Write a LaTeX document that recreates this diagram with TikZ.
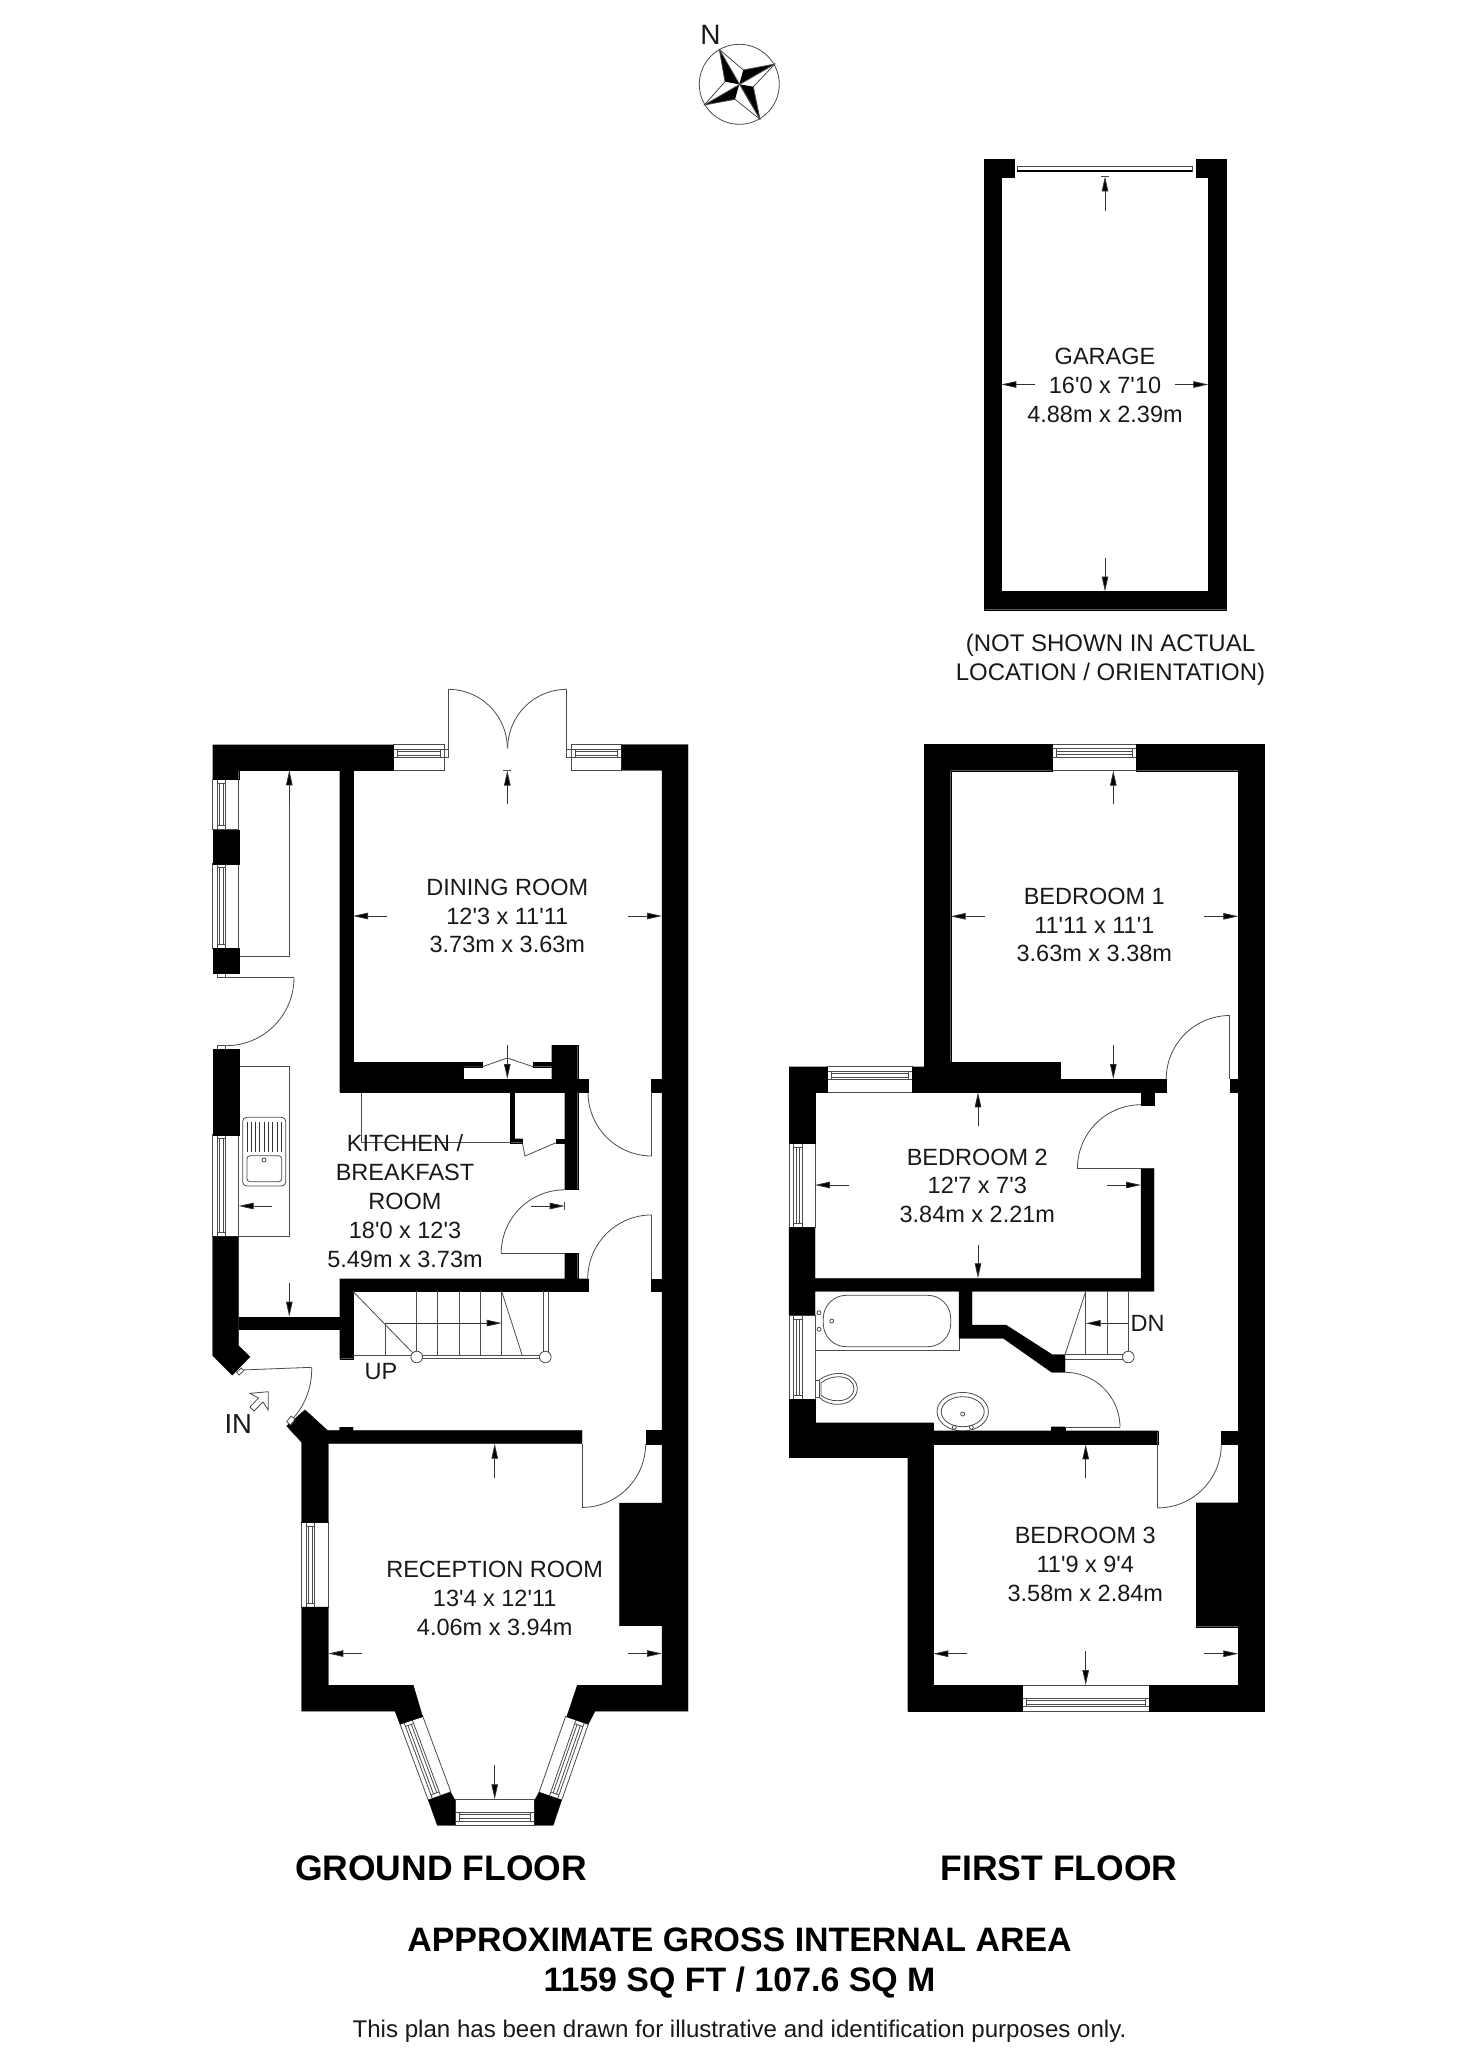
\documentclass[tikz,border=0pt]{standalone}
\usepackage{fontspec}
\newfontfamily\lib{Liberation Sans}
\setmainfont{Liberation Sans}
\usetikzlibrary{arrows.meta}
\tikzset{
  wall/.style={fill=black,draw=black,line width=0.3pt},
  fine/.style={draw=black!70,line width=0.8pt},
  dimline/.style={draw=black!80,line width=0.8pt,-{Triangle[length=15pt,width=6.5pt,fill=black]}},
  lbl/.style={inner sep=0pt,align=center,font=\lib\fontsize{23.5}{28.8}\selectfont,text=black!90},
  title/.style={inner sep=0pt,align=center,font=\lib\fontsize{35.5}{42}\selectfont\bfseries,text=black},
}
\newcommand{\winrect}[5]{%
  \begin{scope}[shift={(#1,#2)},rotate=#3]
    \filldraw[fine,fill=white] (0,0) rectangle (#4,#5);
    \draw[fine] (0,4.3) -- (#4,4.3) (0,13) -- (#4,13);
    \draw[fine] (4,4.3) -- (4,13) ({#4-4},4.3) -- ({#4-4},13);
    \draw[fine] (4,7) -- ({#4-4},7) (4,10.5) -- ({#4-4},10.5);
  \end{scope}}
\newcommand{\dooroval}[5]{%
  \draw[fine] plot[smooth,samples=24,domain=#4:#5] ({#1+#3*cos(\x)},{#2+#3*sin(\x)});}
\begin{document}
\begin{tikzpicture}[x=1pt,y=-1pt]
\useasboundingbox (0,0) rectangle (1479,2048);
\fill[white] (0,0) rectangle (1479,2048);

% ---------- compass
\draw[fine] (739.3,84.3) circle[radius=40];
\fill[black] (719.3,49.3) -- (739.3,84.3) -- (725,81.7) -- cycle;
\fill[black] (775,64) -- (739.3,84.3) -- (743.3,70) -- cycle;
\fill[black] (760,119.3) -- (739.3,84.3) -- (753.3,86.7) -- cycle;
\fill[black] (704.3,105) -- (739.3,84.3) -- (735,99.3) -- cycle;
\draw[fine] (719.3,49.3) -- (743.3,70) -- (775,64) -- (753.3,86.7) -- (760,119.3) -- (735,99.3) -- (704.3,105) -- (725,81.7) -- cycle;
\draw[fine] (719.3,49.3) -- (760,119.3) (775,64) -- (704.3,105);
\node[lbl,font=\lib\fontsize{28}{30}\selectfont] (north) at (710.5,35) {N};

% ---------- garage
\filldraw[fine,fill=white] (1017.3,166.2) rectangle (1192,171.4);
\draw[black,line width=1.5pt] (1017.3,171) -- (1192,171);
\fill[wall] (984,159.6) -- (1014.3,159.6) -- (1014.3,176.9) -- (1001.3,176.9) -- (1001.3,591.5) -- (1208.3,591.5) -- (1208.3,176.9) -- (1196,176.9) -- (1196,159.6) -- (1226.3,159.6) -- (1226.3,609.7) -- (984,609.7) -- cycle;
\draw[dimline] (1105,211.3) -- (1105,176.4);
\draw[fine] (1101,176.2) -- (1109,176.2);
\draw[dimline] (1105,558) -- (1105,591.5);
\draw[dimline] (1035.3,384.5) -- (1001.3,384.5);
\draw[dimline] (1174.7,384.5) -- (1208.3,384.5);
\node[lbl] (garage) at (1105,385.2) {GARAGE\\16'0 x 7'10\\4.88m x 2.39m};
\node[lbl,font=\lib\fontsize{24}{28.7}\selectfont] (notshown) at (1110.5,660) {(NOT SHOWN IN ACTUAL\\LOCATION / ORIENTATION)};

% ---------- ground floor fixtures
\draw[fine] (289.3,770.3) -- (289.3,956.7) -- (238.7,956.7);
\draw[fine] (238.7,1066.7) -- (289.3,1066.7) -- (289.3,1236.7) -- (238.7,1236.7);
\draw[fine,rounded corners=4pt] (242.7,1117.3) rectangle (285.7,1186);
\draw[fine,rounded corners=3pt] (247,1155.7) rectangle (281.7,1181.7);
\draw[fine] (264,1160) circle[radius=2];
\foreach \gx in {247,251.3,255.6,259.9,264.2,268.5,272.8,277.1,281.4}
  \draw[draw=black!80,line width=0.9pt] (\gx,1121.7) -- (\gx,1151.7);
\draw[fine] (361.3,1092.3) -- (361.3,1142.7) -- (510,1142.7);
\draw[fine] (522.3,1142.7) -- (525,1156) -- (556,1142.7);
\draw[fine] (463.3,1066.7) -- (482.3,1066.7) -- (507.3,1058) -- (533.3,1066.7);

% windows ground floor
\winrect{393.3}{744.7}{0}{50.7}{25.6}
\winrect{571.3}{744.7}{0}{50.4}{25.6}
\draw[fine] (393.3,749) rectangle (448.3,757.3);
\draw[fine] (566.7,749) rectangle (621.7,757.3);
\winrect{212.7}{829.7}{90}{50.4}{26}
\winrect{212.7}{948}{90}{84.3}{26}
\winrect{212.7}{1236.7}{90}{102}{26}
\winrect{301.7}{1607.1}{90}{84.5}{26.6}
\winrect{534.7}{1825.3}{180}{79.7}{26}
\winrect{428.3}{1800.1}{110.4}{81}{24}
\winrect{588.3}{1724.2}{250.7}{80.5}{24}
\draw[fine] (217.3,973.3) rectangle (225.7,977.7);
\draw[fine] (217.3,1045.7) rectangle (225.7,1049.3);

% ---------- ground floor walls
\fill[wall] (212.7,744.7) -- (393.3,744.7) -- (393.3,770.3) -- (238.7,770.3) -- (238.7,779.3) -- (212.7,779.3) -- cycle;
\fill[wall] (339.7,770.3) -- (353,770.3) -- (353,1062.3) -- (482.3,1062.3) -- (482.3,1066.7) -- (463.3,1066.7) -- (463.3,1079) -- (551.7,1079) -- (551.7,1066.7) -- (533.3,1066.7) -- (533.3,1062.3) -- (551.7,1062.3) -- (551.7,1045) -- (577.7,1045) -- (577.7,1079) -- (588,1079) -- (588,1092.3) -- (577.7,1092.3) -- (577.7,1189.6) -- (564.7,1189.6) -- (564.7,1092.3) -- (339.7,1092.3) -- cycle;
\fill[wall] (510,1092.3) -- (514.3,1092.3) -- (514.3,1138.7) -- (522.3,1138.7) -- (522.3,1142.7) -- (510,1142.7) -- cycle;
\fill[wall] (556,1138.7) rectangle (564.7,1142.7);
\fill[wall] (339.7,1278.7) -- (564.7,1278.7) -- (564.7,1253.3) -- (577.7,1253.3) -- (577.7,1278.7) -- (588,1278.7) -- (588,1291.4) -- (353,1291.4) -- (353,1358.7) -- (339.7,1358.7) -- (339.7,1329.6) -- (238.7,1329.6) -- (238.7,1317) -- (339.7,1317) -- cycle;
\fill[wall] (212.7,1236.7) -- (238.7,1236.7) -- (238.7,1345.7) -- (250,1356.9) -- (232.3,1375.1) -- (212.7,1355.6) -- cycle;
\fill[wall] (212.7,829.7) rectangle (238.7,863.7);
\fill[wall] (212.7,948) rectangle (238.7,973.3);
\fill[wall] (212.7,1049.3) rectangle (238.7,1134.7);
\fill[wall] (621.7,744.7) -- (688,744.7) -- (688,1711.2) -- (595,1711.2) -- (588.3,1724.2) -- (566.7,1716.8) -- (577.3,1685.2) -- (662,1685.2) -- (662,1625.8) -- (619.3,1625.8) -- (619.3,1503) -- (662,1503) -- (662,770.3) -- (621.7,770.3) -- cycle;
\fill[wall] (651,1079) rectangle (662,1092.3);
\fill[wall] (651,1278.9) rectangle (662,1291.4);
\fill[wall] (645.7,1430.6) rectangle (662,1443.7);
\fill[wall] (286.7,1426) -- (305,1409.8) -- (327.7,1430.6) -- (339.7,1430.6) -- (339.7,1427.2) -- (353,1427.2) -- (353,1430.6) -- (582,1430.6) -- (582,1443.7) -- (328.3,1443.7) -- (328.3,1522.6) -- (301.7,1522.6) -- (301.7,1442.4) -- cycle;
\fill[wall] (301.7,1607.1) -- (328.3,1607.1) -- (328.3,1685.2) -- (413.3,1685.2) -- (422.7,1716.8) -- (400,1724.2) -- (395,1711.2) -- (301.7,1711.2) -- cycle;
\fill[wall] (428.3,1800.1) -- (450.7,1792.3) -- (455,1800.1) -- (455,1825.3) -- (437.3,1825.3) -- cycle;
\fill[wall] (534.7,1800.1) -- (539,1792.3) -- (561.7,1800.1) -- (553.3,1825.3) -- (534.7,1825.3) -- cycle;

% doors ground floor
\draw[fine] (448.3,757.3) -- (448.3,689.3);
\dooroval{448.3}{748.3}{59}{-90}{0}
\draw[fine] (566.7,757.3) -- (566.7,689.3);
\dooroval{566.7}{748.3}{59}{180}{270}
\draw[fine] (217.3,977.7) -- (294,977.7);
\dooroval{226}{977.7}{68}{0}{90}
\draw[fine] (651.7,1092.3) -- (651.7,1156);
\dooroval{651.7}{1092.3}{63.7}{90}{180}
\draw[fine] (501,1253.3) -- (564.7,1253.3);
\dooroval{564.7}{1253.3}{63.5}{180}{270}
\draw[fine] (651.7,1214.7) -- (651.7,1279);
\dooroval{651.7}{1278.9}{64}{180}{270}
\draw[fine] (582,1443.7) -- (582,1507.4);
\dooroval{582}{1443.7}{63.7}{0}{90}
\draw[fine] (241,1370) -- (311.7,1367.3);
\dooroval{238.3}{1369.5}{73.4}{-1.7}{46.8}
\filldraw[fine,fill=white] (236.7,1372.3) -- (239,1375) -- (243.7,1370.7) -- (241.3,1368) -- cycle;
\filldraw[fine,fill=white] (286.7,1421.7) -- (291,1416) -- (295,1419) -- (290.7,1425) -- cycle;

% stairs ground floor
\draw[fine] (353,1291.4) -- (413.3,1353.5);
\draw[fine] (385,1323.1) -- (385,1355.6);
\foreach \sx in {416.7,437.7,459,480.3,501.7}
  \draw[fine] (\sx,1291.4) -- (\sx,1355.6);
\draw[fine] (501.7,1291.4) -- (522.3,1355.6);
\draw[fine] (353,1355.6) -- (416.7,1355.6);
\draw[fine] (416.7,1355.2) -- (545.3,1355.2) (416.7,1358.8) -- (545.3,1358.8);
\draw[fine] (543.3,1291.4) -- (543.3,1352) (548,1291.4) -- (548,1352);
\filldraw[fine,fill=white] (416.7,1357) circle[radius=5.8];
\filldraw[fine,fill=white] (545.3,1357) circle[radius=5.8];
\draw[dimline] (385,1323.1) -- (501.7,1323.1);
\node[lbl] (up) at (381,1371.7) {UP};
\node[lbl,font=\lib\fontsize{27.5}{30}\selectfont] (in) at (238.3,1423.7) {IN};
\draw[fine] (268.3,1391.7) -- (250,1393.3) -- (258.5,1398) -- (250,1407) -- (254,1411) -- (263,1402) -- (268.3,1410) -- cycle;

% dimension arrows ground floor
\draw[dimline] (507.3,804) -- (507.3,770.6);
\draw[fine] (503.3,770.3) -- (511.3,770.3);
\draw[dimline] (507.3,1045) -- (507.3,1079);
\draw[dimline] (387,916) -- (353,916);
\draw[dimline] (628.3,916) -- (662,916);
\draw[dimline] (289.3,804) -- (289.3,770.3);
\draw[dimline] (272.3,1206) -- (238.7,1206);
\draw[dimline] (530.7,1206) -- (564.7,1206);
\draw[fine] (564.7,1202) -- (564.7,1210);
\draw[dimline] (289.3,1282.7) -- (289.3,1316.7);
\draw[dimline] (494.7,1478.3) -- (494.7,1443.7);
\draw[dimline] (494.7,1765.4) -- (494.7,1799.3);
\draw[dimline] (361.7,1653.5) -- (328.3,1653.5);
\draw[dimline] (628.3,1653.5) -- (662,1653.5);

\node[lbl] (dining) at (507.3,916) {DINING ROOM\\12'3 x 11'11\\3.73m x 3.63m};
\node[lbl,fill=none] (kitchen) at (405,1201) {KITCHEN /\\BREAKFAST\\ROOM\\18'0 x 12'3\\5.49m x 3.73m};
\node[lbl] (reception) at (494.7,1598.3) {RECEPTION ROOM\\13'4 x 12'11\\4.06m x 3.94m};

% ---------- first floor fixtures
\draw[fine] (815,1350.7) -- (959,1350.7) -- (959,1338.3);
\draw[fine,rounded corners=23pt] (823.3,1295.3) rectangle (950.7,1346.7);
\draw[fine] (819,1312.7) circle[radius=2];
\draw[fine] (819,1329.3) circle[radius=2];
\draw[fine] (831.7,1321) circle[radius=2];
\draw[fine] (815,1380) rectangle (819,1397.3);
\draw[fine] (819,1380) .. controls (825,1375.5) and (833,1373.3) .. (840,1373.3) .. controls (850,1374) and (857.3,1381) .. (857.3,1388.5) .. controls (857.3,1396.5) and (850,1404.3) .. (838,1404.3) .. controls (830,1404.3) and (824,1402) .. (819,1397.3);
\draw[fine] (821,1383) .. controls (825,1379) and (833,1376.7) .. (839,1376.7) .. controls (848,1377) and (854,1382) .. (854,1388.5) .. controls (854,1395) and (848,1400.7) .. (838,1400.7) .. controls (831,1400.7) and (825,1399) .. (821,1395) -- cycle;
\draw[fine] (962.7,1411.7) ellipse[x radius=25.7,y radius=19.3];
\draw[fine] (962.7,1411.7) ellipse[x radius=21.5,y radius=15];
\draw[fine] (962.7,1414) circle[radius=2];
\draw[fine] (954.3,1427.3) circle[radius=2];
\draw[fine] (971.3,1427.3) circle[radius=2];

\winrect{1052}{744.3}{0}{84.3}{26.4}
\winrect{827.3}{1066.7}{0}{84.7}{25.6}
\winrect{789}{1227.3}{90}{84}{26}
\winrect{789}{1399.3}{90}{84.3}{26}
\winrect{1149}{1711}{180}{126.7}{26}

% ---------- first floor walls
\fill[wall] (924.3,744.3) -- (1052,744.3) -- (1052,770.7) -- (950.7,770.7) -- (950.7,1062) -- (1060.3,1062) -- (1060.3,1079) -- (1166.3,1079) -- (1166.3,1092.3) -- (1154,1092.3) -- (1154,1105) -- (1141,1105) -- (1141,1092.3) -- (912,1092.3) -- (912,1066.7) -- (924.3,1066.7) -- cycle;
\fill[wall] (789,1066.7) -- (827.3,1066.7) -- (827.3,1092.3) -- (815,1092.3) -- (815,1143.3) -- (789,1143.3) -- cycle;
\fill[wall] (1136.3,744.3) -- (1264,744.3) -- (1264,1711) -- (1149,1711) -- (1149,1685) -- (1238.3,1685) -- (1238.3,1626.7) -- (1196,1626.7) -- (1196,1502.7) -- (1238.3,1502.7) -- (1238.3,770.7) -- (1136.3,770.7) -- cycle;
\fill[wall] (1229.7,1079) rectangle (1238.3,1092.3);
\fill[wall] (1221,1430.7) rectangle (1238.3,1444.3);
\fill[wall] (1141,1168.3) -- (1154,1168.3) -- (1154,1291.3) -- (972,1291.3) -- (972,1325) -- (1006,1325) -- (1052.3,1354.7) -- (1065,1354.7) -- (1065,1372.3) -- (1051.7,1372.3) -- (1003.3,1338.3) -- (959,1338.3) -- (959,1291.3) -- (815,1291.3) -- (815,1315) -- (789,1315) -- (789,1227.3) -- (815,1227.3) -- (815,1278.3) -- (1141,1278.3) -- cycle;
\fill[wall] (789,1399.3) -- (815,1399.3) -- (815,1422.7) -- (933.3,1422.7) -- (933.3,1430.7) -- (1051.3,1430.7) -- (1051.3,1426.7) -- (1065,1426.7) -- (1065,1430.7) -- (1157.7,1430.7) -- (1157.7,1444.3) -- (933.3,1444.3) -- (933.3,1685) -- (1022.3,1685) -- (1022.3,1711) -- (907.7,1711) -- (907.7,1457.3) -- (789,1457.3) -- cycle;

% doors first floor
\draw[fine] (1229.7,1015.3) -- (1229.7,1079);
\dooroval{1229.7}{1079}{63.5}{180}{270}
\draw[fine] (1077.3,1168.3) -- (1141,1168.3);
\dooroval{1141}{1168.3}{63.6}{180}{270}
\draw[fine] (1065,1427.3) -- (1120,1427.3);
\dooroval{1065}{1427.3}{55}{-90}{0}
\draw[fine] (1157.7,1444.3) -- (1157.7,1507.7);
\dooroval{1157.7}{1444.3}{63.6}{0}{90}

% stairs first floor
\foreach \sx in {1085.7,1107,1128.3}
  \draw[fine] (\sx,1291.3) -- (\sx,1354.7);
\draw[fine] (1085.7,1291.3) -- (1065,1354.7);
\draw[fine] (1065,1354.7) -- (1123.3,1354.7) (1065,1359.3) -- (1123.3,1359.3);
\filldraw[fine,fill=white] (1128.3,1357) circle[radius=5.8];
\draw[dimline] (1128.3,1323.3) -- (1085.7,1323.3);
\node[lbl] (dn) at (1147.5,1323.3) {DN};

% dimension arrows first floor
\draw[dimline] (1113.3,804.3) -- (1113.3,770.7);
\draw[dimline] (1113.3,1045.3) -- (1113.3,1079);
\draw[dimline] (984.7,916.3) -- (950.7,916.3);
\draw[dimline] (1204.3,916.3) -- (1238.3,916.3);
\draw[dimline] (978,1126.3) -- (978,1092.3);
\draw[dimline] (978,1245) -- (978,1278.3);
\draw[dimline] (849,1185) -- (815,1185);
\draw[dimline] (1107,1185) -- (1141,1185);
\draw[dimline] (1085.7,1478) -- (1085.7,1444.3);
\draw[dimline] (1085.7,1651.3) -- (1085.7,1685);
\draw[dimline] (967.3,1653.7) -- (933.3,1653.7);
\draw[dimline] (1204.3,1653.7) -- (1238.3,1653.7);

\node[lbl] (bed1) at (1094.3,925) {BEDROOM 1\\11'11 x 11'1\\3.63m x 3.38m};
\node[lbl] (bed2) at (977.3,1185.7) {BEDROOM 2\\12'7 x 7'3\\3.84m x 2.21m};
\node[lbl] (bed3) at (1085.3,1564.5) {BEDROOM 3\\11'9 x 9'4\\3.58m x 2.84m};

% ---------- titles
\node[title] (ground) at (441,1868) {GROUND FLOOR};
\node[title] (first) at (1059,1868) {FIRST FLOOR};
\node[title,font=\lib\fontsize{33.9}{40.5}\selectfont\bfseries] (area) at (739.5,1963) {APPROXIMATE GROSS INTERNAL AREA\\1159 SQ FT / 107.6 SQ M};
\node[lbl,font=\lib\fontsize{24.1}{28}\selectfont] (note) at (739.5,2031.6) {This plan has been drawn for illustrative and identification purposes only.};
\end{tikzpicture}
\end{document}
